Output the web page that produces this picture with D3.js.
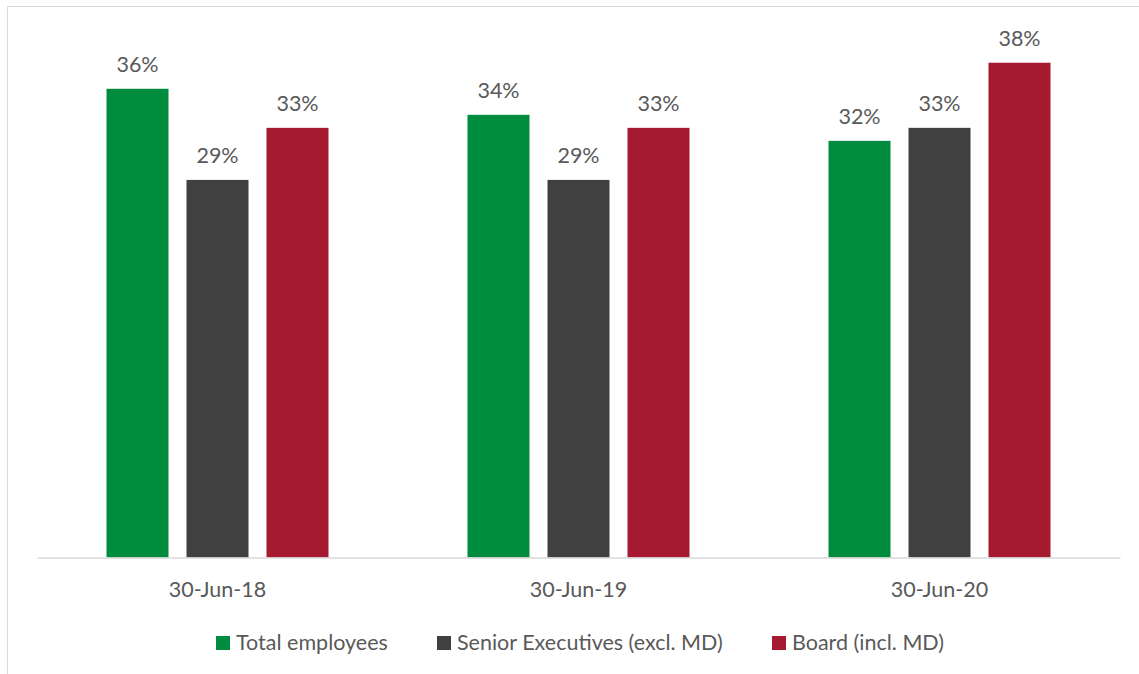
<!DOCTYPE html>
<html><head><meta charset="utf-8">
<script src="https://cdn.jsdelivr.net/npm/d3@7/dist/d3.min.js"></script>
<style>body{margin:0;background:#fff}svg{display:block}text{font-family:Lato,"Open Sans",sans-serif}</style>
</head><body>
<svg id="c" width="1139" height="674"></svg>
<script>
const categories = ["30-Jun-18", "30-Jun-19", "30-Jun-20"];
const seriesNames = ["Total employees", "Senior Executives (excl. MD)", "Board (incl. MD)"];
const totalEmployees = [36, 34, 32];
const seniorExecutives = [29, 29, 33];
const board = [33, 33, 38];
const seriesValues = [totalEmployees, seniorExecutives, board];
const colors = ["#008C3F", "#404040", "#A51931"];

const svg = d3.select("#c");
const fontSize = 21.5, textColor = "#595959";

// chart border (partially cropped)
svg.append("line").attr("x1", 7.5).attr("x2", 1139).attr("y1", 6.5).attr("y2", 6.5).attr("stroke", "#d9d9d9");
svg.append("line").attr("x1", 7.5).attr("x2", 7.5).attr("y1", 6.5).attr("y2", 674).attr("stroke", "#d9d9d9");

const x0 = d3.scaleBand().domain(categories).range([37, 1120]).paddingInner(0).paddingOuter(0);
const x1 = d3.scaleBand().domain(seriesNames).range([0, 222]).paddingInner(0.225).paddingOuter(0);
const y = d3.scaleLinear().domain([0, 40]).range([557.5, 36.7]);

const groups = svg.selectAll("g.grp").data(categories).join("g").attr("class", "grp")
  .attr("transform", d => `translate(${x0(d) + x0.bandwidth() / 2 - 111},0)`);

groups.each(function (cat, ci) {
  const g = d3.select(this);
  seriesNames.forEach((s, si) => {
    const v = seriesValues[si][ci];
    g.append("rect").attr("x", x1(s)).attr("width", x1.bandwidth())
      .attr("y", y(v)).attr("height", y(0) - y(v)).attr("fill", colors[si]);
    g.append("text").attr("x", x1(s) + x1.bandwidth() / 2).attr("y", y(v) - 17)
      .attr("text-anchor", "middle").attr("font-size", fontSize).attr("fill", textColor)
      .text(v + "%");
  });
});

// x axis
const xAxis = d3.axisBottom(x0).tickSize(0).tickPadding(0);
const ax = svg.append("g").attr("transform", `translate(0,${y(0)})`).call(xAxis);
ax.select(".domain").attr("stroke", "#d9d9d9").attr("stroke-width", 1.5);
ax.selectAll(".tick text").attr("font-size", fontSize).attr("fill", textColor)
  .attr("font-family", "Lato, 'Open Sans', sans-serif").attr("dy", null).attr("y", 39.5);

// legend
const legendX = [216, 437, 772];
const lg = svg.append("g");
seriesNames.forEach((s, i) => {
  lg.append("rect").attr("x", legendX[i]).attr("y", 636).attr("width", 14).attr("height", 14).attr("fill", colors[i]);
  lg.append("text").attr("x", legendX[i] + 20).attr("y", 650).attr("font-size", fontSize).attr("fill", textColor).text(s);
});
</script>
</body></html>
